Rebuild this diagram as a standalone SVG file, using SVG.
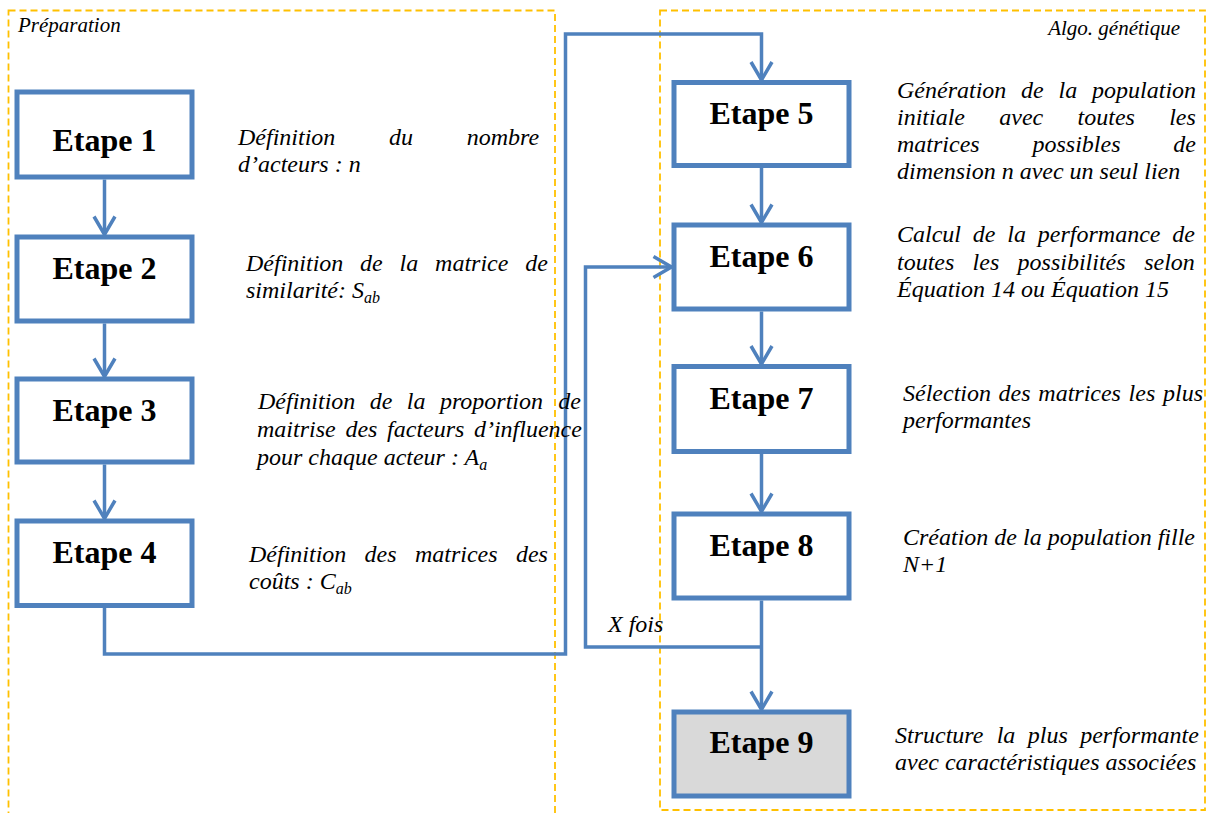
<svg xmlns="http://www.w3.org/2000/svg" width="1209" height="813" viewBox="0 0 1209 813">
<style>
.zone{fill:none;stroke:#FFC000;stroke-width:1.8;stroke-dasharray:7 4}
.box{fill:#FFFFFF;stroke:#4F81BD;stroke-width:5}
.final{fill:#D9D9D9}
.lbl{font-family:"Liberation Serif","Times New Roman",serif;font-weight:bold;font-size:32px;fill:#000;text-anchor:middle}
.desc{font-family:"Liberation Serif","Times New Roman",serif;font-style:italic;font-size:24px;fill:#000}
.zl{font-family:"Liberation Serif","Times New Roman",serif;font-style:italic;font-size:21px;fill:#000}
.con{fill:none;stroke:#4F81BD;stroke-width:3.5}
.sub{font-size:16px}
</style>
<defs>
<marker id="arr" markerUnits="userSpaceOnUse" markerWidth="30" markerHeight="30" viewBox="0 0 30 30" refX="24" refY="15" orient="auto" overflow="visible">
<path d="M6,4.5 L24,15 L6,25.5" fill="none" stroke="#4F81BD" stroke-width="3.5"/>
</marker>
</defs>

<g id="zones">
<rect id="zone-preparation" class="zone" x="8.5" y="10.5" width="546.5" height="820"/>
<rect id="zone-algo" class="zone" x="660" y="10.5" width="545" height="799.5"/>
<text class="zl" x="18" y="32">Préparation</text>
<text class="zl" x="1180" y="35" text-anchor="end">Algo. génétique</text>
</g>

<g id="connectors">
<line class="con" x1="104.5" y1="179.5" x2="104.5" y2="234.5" marker-end="url(#arr)"/>
<line class="con" x1="104.5" y1="323.5" x2="104.5" y2="376.5" marker-end="url(#arr)"/>
<line class="con" x1="104.5" y1="464.5" x2="104.5" y2="518.5" marker-end="url(#arr)"/>
<polyline class="con" points="104.5,608 104.5,654 565.5,654 565.5,34 761.5,34 761.5,80" marker-end="url(#arr)"/>
<line class="con" x1="761.5" y1="168" x2="761.5" y2="222.5" marker-end="url(#arr)"/>
<line class="con" x1="761.5" y1="311.5" x2="761.5" y2="364" marker-end="url(#arr)"/>
<line class="con" x1="761.5" y1="454" x2="761.5" y2="511.5" marker-end="url(#arr)"/>
<line class="con" x1="761.5" y1="600.5" x2="761.5" y2="709.5" marker-end="url(#arr)"/>
<polyline class="con" points="761.5,647 585.5,647 585.5,267 671.5,267" marker-end="url(#arr)"/>
<text class="desc" x="608" y="632">X fois</text>
</g>

<g id="etape1">
<rect class="box" x="17" y="92" width="175" height="85"/>
<text class="lbl" x="104.5" y="151">Etape 1</text>
<text class="desc" y="145"><tspan x="238">Définition</tspan><tspan x="389">du</tspan><tspan x="466.7">nombre</tspan></text>
<text class="desc" x="238" y="172">d’acteurs : n</text>
</g>

<g id="etape2">
<rect class="box" x="17" y="237" width="175" height="84"/>
<text class="lbl" x="104.5" y="279">Etape 2</text>
<text class="desc" y="271"><tspan x="246">Définition</tspan><tspan x="360.1">de</tspan><tspan x="399.6">la</tspan><tspan x="435.1">matrice</tspan><tspan x="525.2">de</tspan></text>
<text class="desc" x="246" y="298">similarité: S<tspan class="sub" dy="5">ab</tspan></text>
</g>

<g id="etape3">
<rect class="box" x="17" y="379" width="175" height="83"/>
<text class="lbl" x="104.5" y="421">Etape 3</text>
<text class="desc" y="409"><tspan x="258">Définition</tspan><tspan x="369.7">de</tspan><tspan x="406.8">la</tspan><tspan x="439.9">proportion</tspan><tspan x="558.3">de</tspan></text>
<text class="desc" y="437"><tspan x="257">maitrise</tspan><tspan x="345.4">des</tspan><tspan x="387.1">facteurs</tspan><tspan x="473.9">d’influence</tspan></text>
<text class="desc" x="257" y="465">pour chaque acteur : A<tspan class="sub" dy="5">a</tspan></text>
</g>

<g id="etape4">
<rect class="box" x="17" y="521" width="175" height="84.5"/>
<text class="lbl" x="104.5" y="563">Etape 4</text>
<text class="desc" y="562"><tspan x="249">Définition</tspan><tspan x="364.6">des</tspan><tspan x="414.9">matrices</tspan><tspan x="515.9">des</tspan></text>
<text class="desc" x="249" y="589">coûts : C<tspan class="sub" dy="5">ab</tspan></text>
</g>

<g id="etape5">
<rect class="box" x="674" y="82.5" width="175" height="83"/>
<text class="lbl" x="761.5" y="124">Etape 5</text>
<text class="desc" y="98"><tspan x="897">Génération</tspan><tspan x="1021.1">de</tspan><tspan x="1058.6">la</tspan><tspan x="1092.1">population</tspan></text>
<text class="desc" y="125"><tspan x="897">initiale</tspan><tspan x="999.3">avec</tspan><tspan x="1077.6">toutes</tspan><tspan x="1169.2">les</tspan></text>
<text class="desc" y="152"><tspan x="897">matrices</tspan><tspan x="1032.5">possibles</tspan><tspan x="1173.3">de</tspan></text>
<text class="desc" x="897" y="179">dimension n avec un seul lien</text>
</g>

<g id="etape6">
<rect class="box" x="674" y="225" width="175" height="84"/>
<text class="lbl" x="761.5" y="267">Etape 6</text>
<text class="desc" y="242"><tspan x="897">Calcul</tspan><tspan x="972.8">de</tspan><tspan x="1007.3">la</tspan><tspan x="1037.8">performance</tspan><tspan x="1172.2">de</tspan></text>
<text class="desc" y="270"><tspan x="897">toutes</tspan><tspan x="972.6">les</tspan><tspan x="1017.6">possibilités</tspan><tspan x="1144.2">selon</tspan></text>
<text class="desc" x="897" y="297">Équation 14 ou Équation 15</text>
</g>

<g id="etape7">
<rect class="box" x="674" y="366.5" width="175" height="85"/>
<text class="lbl" x="761.5" y="409">Etape 7</text>
<text class="desc" y="401"><tspan x="903">Sélection</tspan><tspan x="998.6">des</tspan><tspan x="1038.3">matrices</tspan><tspan x="1128.6">les</tspan><tspan x="1163">plus</tspan></text>
<text class="desc" x="903" y="428">performantes</text>
</g>

<g id="etape8">
<rect class="box" x="674" y="514" width="175" height="84"/>
<text class="lbl" x="761.5" y="556">Etape 8</text>
<text class="desc" x="903" y="545">Création de la population fille</text>
<text class="desc" x="903" y="572">N+1</text>
</g>

<g id="etape9">
<rect class="box final" x="674" y="712" width="175" height="84"/>
<text class="lbl" x="761.5" y="753">Etape 9</text>
<text class="desc" y="743"><tspan x="895">Structure</tspan><tspan x="996.7">la</tspan><tspan x="1027.8">plus</tspan><tspan x="1080.2">performante</tspan></text>
<text class="desc" x="895" y="770">avec caractéristiques associées</text>
</g>
</svg>
